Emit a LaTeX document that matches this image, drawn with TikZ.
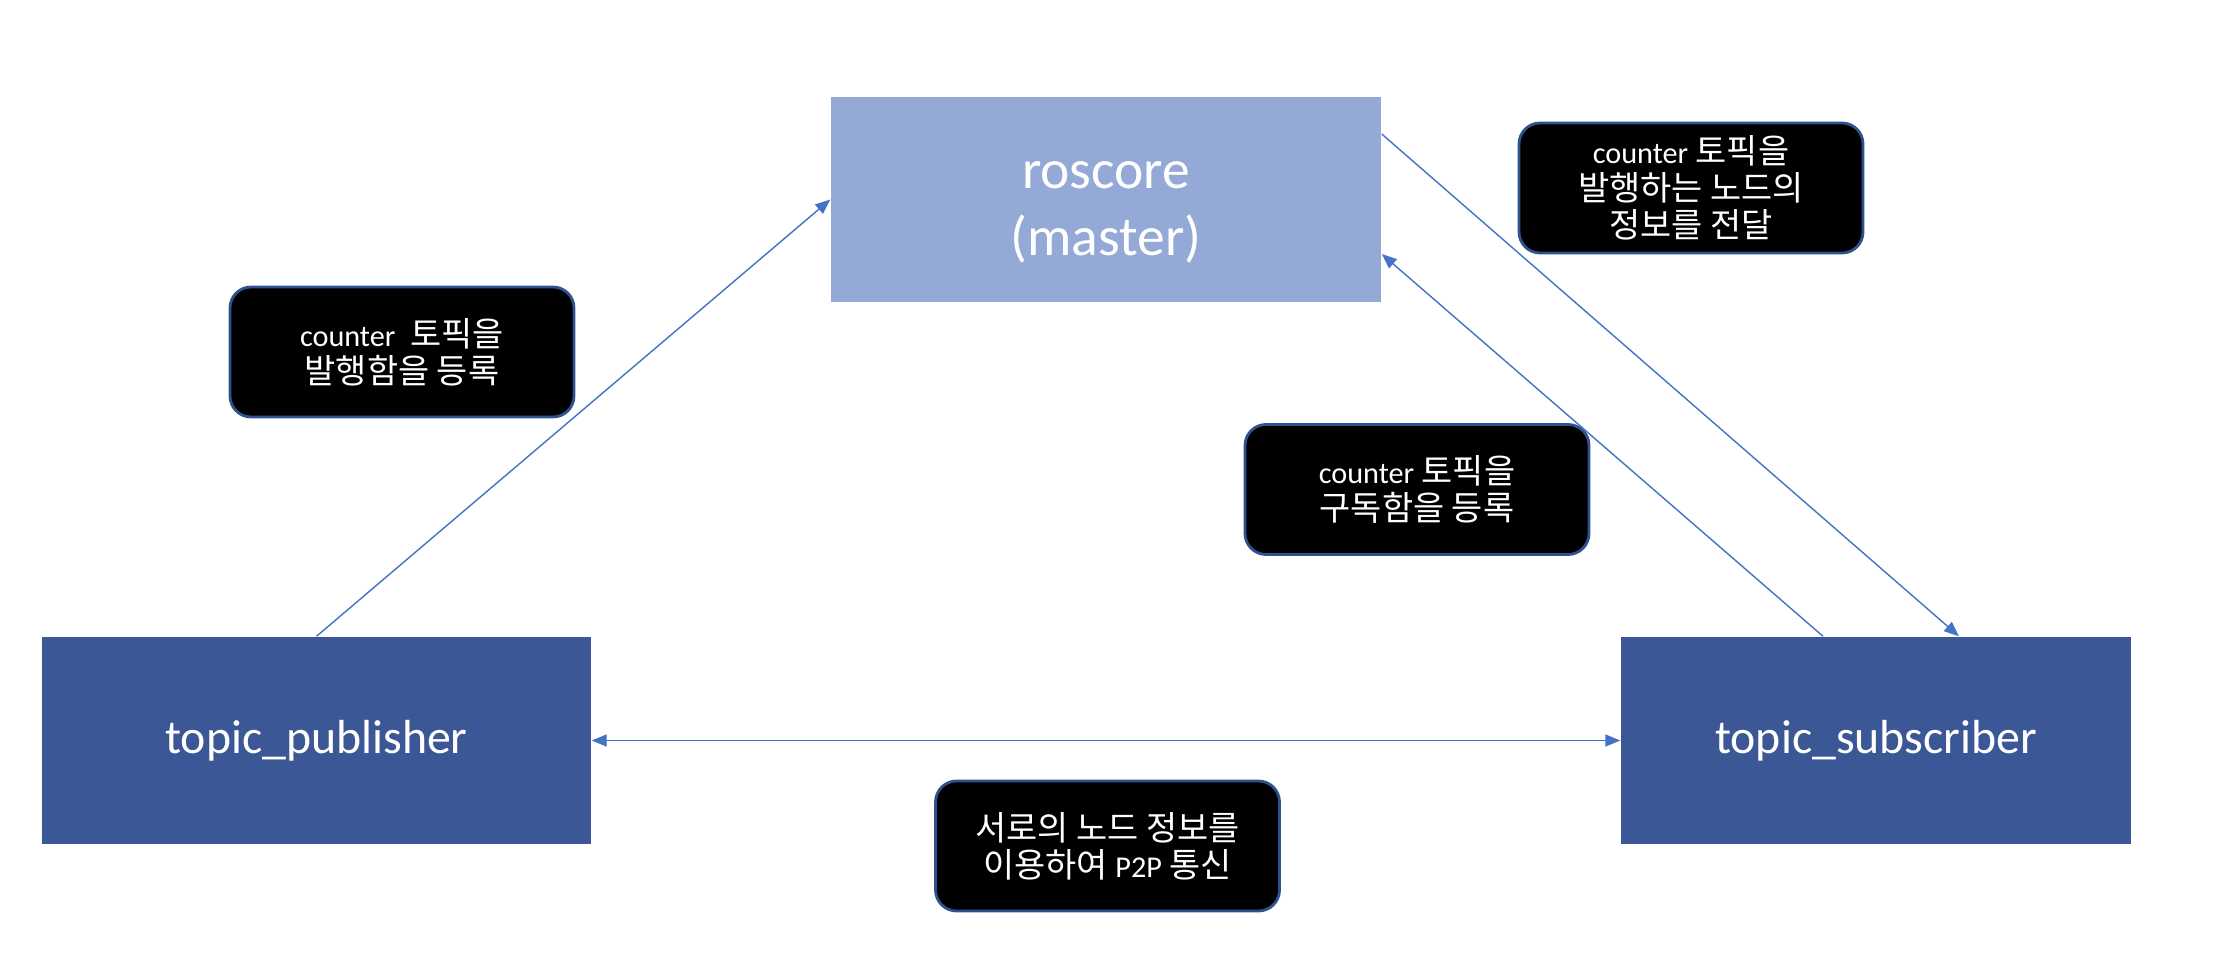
\documentclass[tikz,border=0pt]{standalone}
\usepackage{fontspec}
\setmainfont{Carlito}
\newfontfamily\kr[Scale=1.12]{Noto Sans CJK KR}
\usetikzlibrary{arrows.meta}
\definecolor{masterblue}{HTML}{95A9D7}
\definecolor{nodeblue}{HTML}{3B5796}
\definecolor{linkblue}{HTML}{4472C4}
\definecolor{tagborder}{HTML}{2F528F}
\newcommand{\lat}[1]{{\normalfont #1}}

\begin{document}
\begin{tikzpicture}[x=0.1mm, y=-0.1mm,
box/.style={rectangle, draw=none, text=white, align=center, inner sep=0pt},
master/.style={box, fill=masterblue, minimum width=55mm, minimum height=20.5mm, font=\fontsize{15.8}{19}\selectfont},
ros/.style={box, fill=nodeblue, minimum height=20.7mm, font=\fontsize{13.6}{16}\selectfont},
tag/.style={rectangle, rounded corners=2.1mm, draw=tagborder, line width=0.8pt, fill=black, text=white, align=center, inner sep=0pt, minimum width=34.4mm, minimum height=13mm, font=\kr\fontsize{8.6}{10.5}\selectfont},
link/.style={draw=linkblue, line width=0.4pt, -{Triangle[length=1.5mm, width=1.2mm]}}
]
\useasboundingbox (0,0) rectangle (2216,964);
%Nodes
\node[master]              (roscore) at (1106,199.5) {\rule{0pt}{15pt}roscore\\(master)};
\node[ros, minimum width=54.9mm] (pub) at (316.5,740.5) {topic\_publisher};
\node[ros, minimum width=51mm]   (sub) at (1876,740.5)  {topic\_subscriber};
%Labels
\node[tag] (regpub) at (402,352)    {\lat{counter}\ \ 토픽을\\발행함을 등록};
\node[tag] (inform) at (1691,188)   {\lat{counter} 토픽을\\발행하는 노드의\\정보를 전달};
\node[tag] (regsub) at (1417,489.5) {\lat{counter} 토픽을\\구독함을 등록};
\node[tag] (peer)   at (1107.5,846) {서로의 노드 정보를\\이용하여 \lat{P2P} 통신};
%Lines
\draw[link] (pub.north) -- (roscore.west);
\draw[link] ([yshift=6.55mm]roscore.east) -- ([xshift=8.3mm]sub.north);
\draw[link] ([xshift=-5.3mm]sub.north) -- ([yshift=-5.45mm]roscore.east);
\draw[link, {Triangle[length=1.5mm, width=1.2mm]}-{Triangle[length=1.5mm, width=1.2mm]}] (pub.east) -- (sub.west);
\end{tikzpicture}
\end{document}
